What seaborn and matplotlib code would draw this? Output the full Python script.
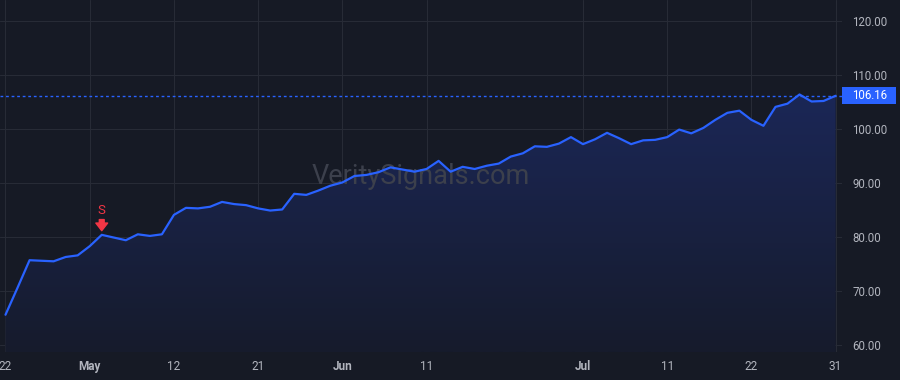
import numpy as np
import pandas as pd
import seaborn as sns
import matplotlib.pyplot as plt
from matplotlib.colors import LinearSegmentedColormap
from matplotlib.patches import Rectangle
from matplotlib.transforms import blended_transform_factory


# daily closes, Apr 22 -> Jul 31 (trading days)
prices = [65.6, 70.6, 75.7, 75.6, 75.5, 76.3, 76.6, 78.3, 80.4, 79.9,
          79.4, 80.5, 80.2, 80.5, 84.1, 85.4, 85.3, 85.6, 86.5, 86.1,
          85.9, 85.3, 84.9, 85.1, 88.0, 87.8, 88.6, 89.5, 90.1, 91.3,
          91.5, 92.0, 92.9, 92.5, 92.1, 92.6, 94.1, 92.1, 93.0, 92.6,
          93.2, 93.6, 94.9, 95.5, 96.8, 96.7, 97.3, 98.5, 97.2, 98.1,
          99.3, 98.3, 97.2, 97.9, 98.0, 98.5, 99.9, 99.2, 100.2, 101.7,
          103.0, 103.4, 101.7, 100.6, 104.1, 104.7, 106.4, 105.1, 105.2, 106.16]

tick_idx = [0, 7, 14, 21, 28, 35, 48, 55, 62, 69]
tick_labels = ["22", "May", "12", "21", "Jun", "11", "Jul", "11", "22", "31"]
month_labels = ["May", "Jun", "Jul"]
y_ticks = [60, 70, 80, 90, 100, 110, 120]

signal_idx = 8
signal_text = "S"

df = pd.DataFrame({"idx": np.arange(len(prices)), "price": prices})

bg = "#161a25"
grid = "#272b36"
blue = "#2962ff"
red = "#f23645"
txt = "#b2b5be"

sns.set_style("dark", {"axes.facecolor": bg, "figure.facecolor": bg,
                       "axes.edgecolor": bg, "grid.color": grid})
plt.rcParams['font.family'] = ['Roboto', 'DejaVu Sans']

fig = plt.figure(figsize=(9, 3.8), dpi=100)
ax = fig.add_axes([0, 28 / 380, 842 / 900, 352 / 380])

xmin, xmax = -0.457, 69.53
ymin, ymax = 58.7, 123.9

# gradient fill under the line
poly = ax.fill_between(df["idx"], df["price"], ymin, color="none", lw=0)
cmap = LinearSegmentedColormap.from_list("g", ["#161b2c", "#1b2757"])
grad = np.linspace(0, 1, 256).reshape(-1, 1)
im = ax.imshow(grad, extent=[xmin, xmax, ymin, 107], origin="lower",
               aspect="auto", cmap=cmap, zorder=1)
im.set_clip_path(poly.get_paths()[0], transform=ax.transData)

sns.lineplot(data=df, x="idx", y="price", color=blue, linewidth=1.6, ax=ax, zorder=3)

# last price line + label
last = prices[-1]
ax.axhline(last, color=blue, linewidth=1, linestyle=(0, (2, 2)), zorder=2)
trans = blended_transform_factory(ax.transAxes, ax.transData)
ax.add_patch(Rectangle((1.0, last - 1.55), 54 / 842, 3.1, transform=trans,
                       facecolor=blue, edgecolor="none", clip_on=False))
ax.text(1 + 10 / 842, last, f"{last:.2f}", transform=trans, ha="left",
        va="center", fontsize=8.3, color="white", clip_on=False)

# sell signal
ax.annotate("", xy=(signal_idx, prices[signal_idx]), xytext=(0, 11),
            textcoords="offset points",
            arrowprops=dict(arrowstyle="simple,head_width=0.85,head_length=0.55,tail_width=0.35",
                            color=red, shrinkA=0, shrinkB=3))
ax.annotate(signal_text, xy=(signal_idx, prices[signal_idx]), xytext=(0, 17.5),
            textcoords="offset points", ha="center", va="center",
            fontsize=9.5, color=red)

# watermark
ax.text(0.5, 0.5, "VeritySignals.com", transform=ax.transAxes, ha="center",
        va="center", fontsize=19.5, color="#3c404c", zorder=2)

ax.set_xlim(xmin, xmax)
ax.set_ylim(ymin, ymax)
ax.set_xticks(tick_idx)
ax.set_xticklabels(tick_labels)
for lab in ax.get_xticklabels():
    if lab.get_text() in month_labels:
        lab.set_fontweight("bold")
ax.set_yticks(y_ticks)
ax.set_yticklabels([f"{v:.2f}" for v in y_ticks])
ax.yaxis.tick_right()
ax.tick_params(axis="x", colors=txt, labelsize=8.5, length=0, pad=6)
ax.tick_params(axis="y", colors=txt, labelsize=8.3, length=0, pad=7.5)
ax.grid(True, color=grid, linewidth=0.8)
ax.set_axisbelow(True)
ax.set_xlabel("")
ax.set_ylabel("")
for s in ax.spines.values():
    s.set_visible(False)

fig.savefig("out.png", dpi=100, facecolor=bg)
